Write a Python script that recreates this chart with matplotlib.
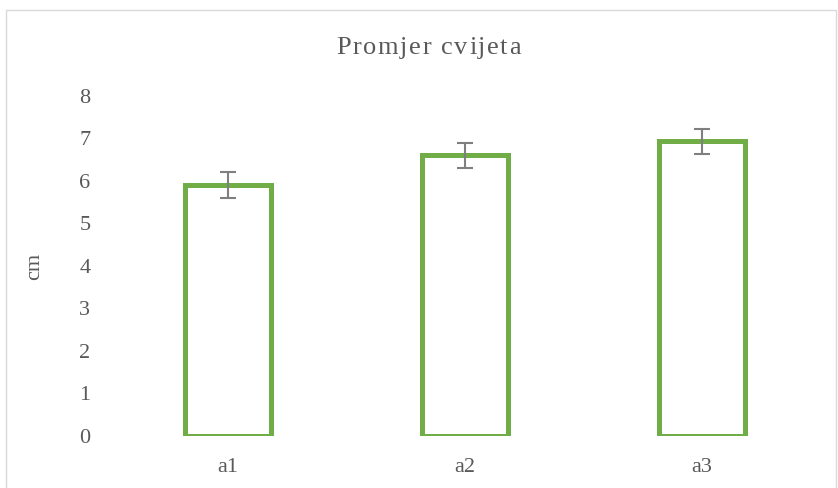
import matplotlib.pyplot as plt
from matplotlib.patches import Rectangle
from matplotlib.font_manager import FontProperties

# podaci
kategorije = ["a1", "a2", "a3"]
promjer = [5.9, 6.6, 6.93]
greska = [0.3, 0.3, 0.29]
naslov = "Promjer cvijeta"

siva = "#595959"
zelena = "#70AD47"

plt.rcParams["font.family"] = ["Liberation Serif", "DejaVu Serif"]

fig = plt.figure(figsize=(8.38, 4.88), dpi=100)
ax = fig.add_axes([0.131, 0.1066, 0.848, 0.6967])

x = range(len(kategorije))
ax.bar(x, promjer, width=0.365, facecolor="white", edgecolor=zelena, linewidth=3.6,
       yerr=greska, error_kw=dict(ecolor="#7F7F7F", elinewidth=1.5, capsize=6, capthick=1.5))

ax.set_xlim(-0.5, 2.5)
ax.set_ylim(0, 8)
ax.set_yticks(range(0, 9))
ax.set_xticks(list(x))
ax.set_xticklabels(kategorije)
ax.tick_params(axis="both", length=0, labelsize=16, labelcolor=siva)
ax.tick_params(axis="y", pad=14)
ax.tick_params(axis="x", pad=16)
for s in ax.spines.values():
    s.set_visible(False)

ax.set_ylabel("cm", fontsize=16, color=siva, labelpad=25.5)

# naslov s razmakom izmedu slova (kao u Excelu)
rend = fig.canvas.get_renderer()
fp = FontProperties(family=["Liberation Serif", "DejaVu Serif"], size=19)
razmak = 1.6
sirine = [rend.get_text_width_height_descent(c, fp, ismath=False)[0] for c in naslov]
ukupno = sum(sirine) + razmak * (len(naslov) - 1)
px = 428.5 - ukupno / 2
for c, w in zip(naslov, sirine):
    fig.text(px / 838, 1 - 48 / 488, c, ha="left", va="center", fontproperties=fp, color=siva)
    px += w + razmak

# okvir grafikona
fig.patches.append(Rectangle((6 / 838, -0.01), 830 / 838, 1 - 10 / 488 + 0.01,
                             transform=fig.transFigure, fill=False, edgecolor="#D9D9D9", linewidth=1))

fig.savefig("out.png", dpi=100)
